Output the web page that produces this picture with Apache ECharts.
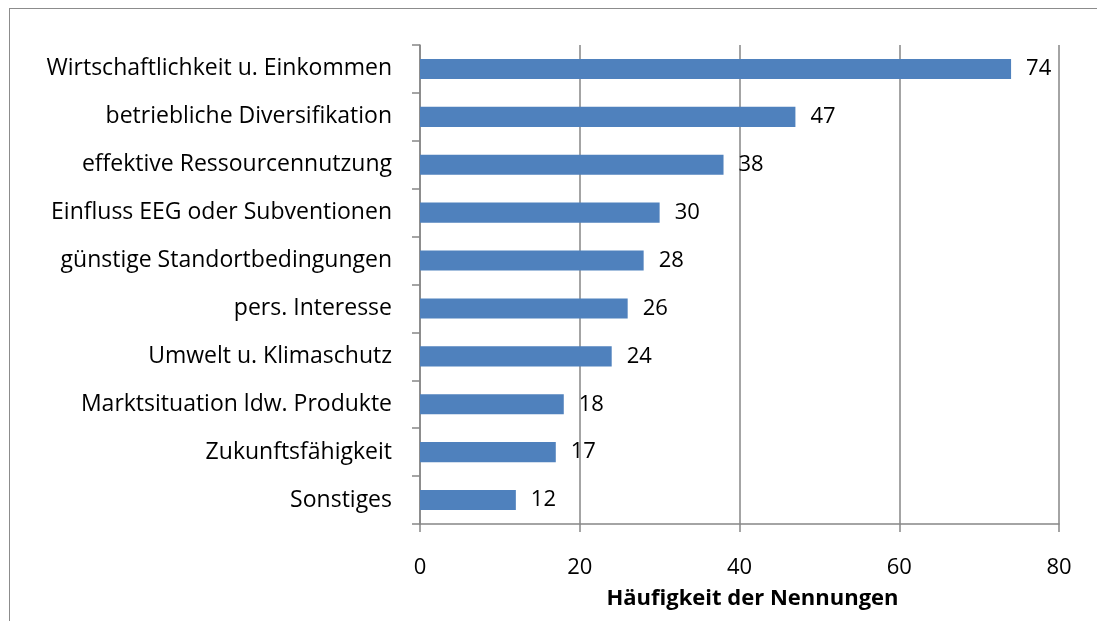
<!DOCTYPE html>
<html>
<head>
<meta charset="utf-8">
<script src="https://cdn.jsdelivr.net/npm/echarts@6/dist/echarts.min.js"></script>
<style>
  html, body { margin: 0; padding: 0; background: #fff; }
  #frame { position: absolute; left: 9px; top: 8px; width: 1200px; height: 700px;
           border: 1.5px solid #8c8c8c; box-sizing: border-box; }
  #main { position: absolute; left: 0; top: 0; width: 1097px; height: 621px; }
</style>
</head>
<body>
<div id="frame"></div>
<div id="main"></div>
<script>
// Beweggründe (Reihenfolge von oben nach unten)
const categories = [
  'Wirtschaftlichkeit u. Einkommen',
  'betriebliche Diversifikation',
  'effektive Ressourcennutzung',
  'Einfluss EEG oder Subventionen',
  'günstige Standortbedingungen',
  'pers. Interesse',
  'Umwelt u. Klimaschutz',
  'Marktsituation ldw. Produkte',
  'Zukunftsfähigkeit',
  'Sonstiges'
];
const counts = [74, 47, 38, 30, 28, 26, 24, 18, 17, 12];
const axisName = 'Häufigkeit der Nennungen';

const grey = '#868686';
const font = '"Open Sans", "Noto Sans", sans-serif';

let chart = echarts.init(document.getElementById('main'));
chart.setOption({
  animation: false,
  textStyle: { fontFamily: font },
  grid: { left: 420, right: 38, top: 45, bottom: 97 },
  xAxis: {
    type: 'value',
    min: 0, max: 80, interval: 20,
    name: axisName,
    nameLocation: 'middle',
    nameGap: 64,
    nameTextStyle: { fontSize: 22, fontWeight: 'bold', color: '#000', fontFamily: font, padding: [0, 0, 0, 26] },
    axisLine: { show: true, lineStyle: { color: grey, width: 1.5 } },
    axisTick: { show: true, length: 8, inside: false, lineStyle: { color: grey, width: 1.5 } },
    axisLabel: { fontSize: 22, color: '#000', margin: 33, fontFamily: font },
    splitLine: { show: true, lineStyle: { color: grey, width: 1.5 } }
  },
  yAxis: {
    type: 'category',
    inverse: true,
    data: categories,
    axisLine: { show: true, lineStyle: { color: grey, width: 1.5 } },
    axisTick: { show: true, length: 8, lineStyle: { color: grey, width: 1.5 } },
    axisLabel: { fontSize: 23, color: '#000', margin: 28, fontFamily: font }
  },
  series: [{
    type: 'bar',
    data: counts,
    barWidth: '42%',
    itemStyle: { color: '#4F81BD' },
    label: { show: true, position: 'right', distance: 15, fontSize: 22, color: '#000', fontFamily: font }
  }]
});
</script>
</body>
</html>
